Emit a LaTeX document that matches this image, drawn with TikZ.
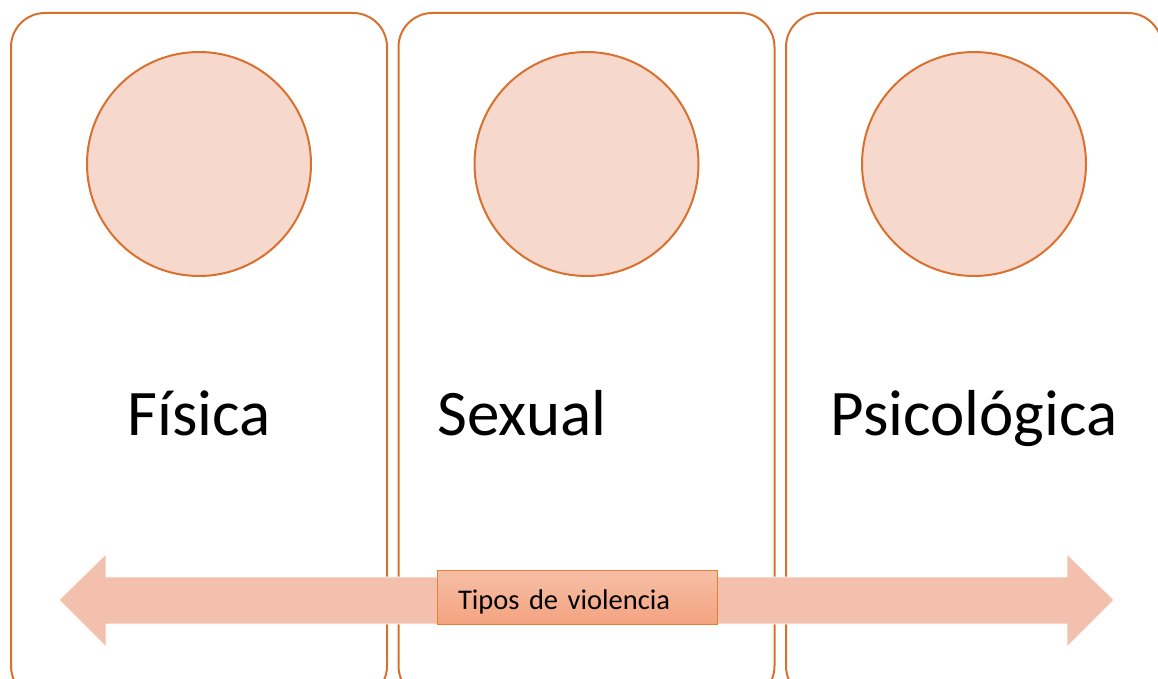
\documentclass[tikz,border=0pt]{standalone}
\usepackage{fontspec}
\setmainfont{Carlito}
\usetikzlibrary{shadings}

\definecolor{panelline}{HTML}{D9702E}
\definecolor{dotfill}{HTML}{F7D8CD}
\definecolor{bandfill}{HTML}{F4C0AE}
\definecolor{tagline}{HTML}{ED7D31}
\definecolor{tagtop}{HTML}{F6BFA6}
\definecolor{tagbottom}{HTML}{F4A380}

\tikzset{
  panel/.style={draw=panelline, line width=2pt, rounded corners=34pt,
    minimum width=376pt, minimum height=687pt, inner sep=0pt},
  dot/.style={circle, draw=panelline, line width=2pt, fill=dotfill,
    minimum size=224pt, inner sep=0pt},
  kind/.style={anchor=base, font=\fontsize{65}{65}\selectfont},
  tag/.style={draw=tagline, line width=0.8pt, top color=tagtop, bottom color=tagbottom,
    minimum height=54pt, text width=238pt, text height=24pt, text depth=0pt,
    inner xsep=21pt, inner ysep=0pt,
    align=left, font=\fontsize{28.5}{30}\selectfont}
}

\begin{document}
\begin{tikzpicture}[x=1pt,y=-1pt]
\useasboundingbox (0,0) rectangle (1158,679);
\clip (0,0) rectangle (1158,679);

% three panels with their circles
\node[panel] (fisicapanel) at (199,356.5) {};
\node[panel] (sexualpanel) at (586.5,356.5) {};
\node[panel] (psicopanel) at (974,356.5) {};

\node[dot] (fisicadot) at (199,164) {};
\node[dot] (sexualdot) at (586.5,164) {};
\node[dot] (psicodot) at (974,164) {};

\node[kind] (fisica) at (199,435) {Física};
\node[kind] (sexual) at (522,435) {Sexual};
\node[kind] (psico) at (974,435) {Psicológica};

% the double arrow across the panels
\coordinate (lefttip) at (59,600);
\coordinate (righttip) at (1114,600);
\filldraw[fill=bandfill, draw=white, line width=0.8pt]
  (lefttip) -- (106,554) -- (106,577) -- (1067,577) -- (1067,554) -- (righttip)
  -- (1067,647) -- (1067,624) -- (106,624) -- (106,647) -- cycle;

\node[tag] (tipos) at (577,597) {Tipos de violencia};
\end{tikzpicture}
\end{document}
